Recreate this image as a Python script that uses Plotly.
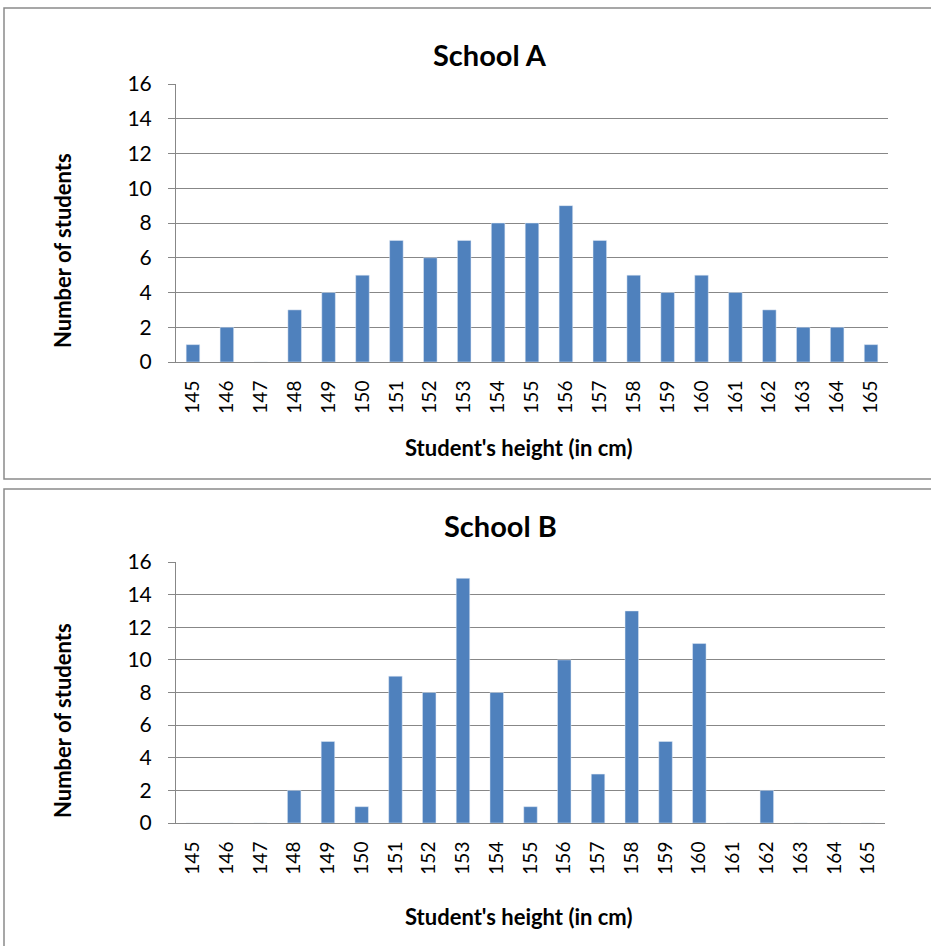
import plotly.graph_objects as go

heights = [str(h) for h in range(145, 166)]
school_a = [1, 2, 0, 3, 4, 5, 7, 6, 7, 8, 8, 9, 7, 5, 4, 5, 4, 3, 2, 2, 1]
school_b = [0, 0, 0, 2, 5, 1, 9, 8, 15, 8, 1, 10, 3, 13, 5, 11, 0, 2, 0, 0, 0]
titles = ["School A", "School B"]
y_title = "Number of students"
x_title = "Student's height (in cm)"

W, H = 931, 946
BAR = "#4F81BD"
GRID = "#878787"
FONT = "Lato, Carlito, Open Sans, sans-serif"

def px_x(x):
    return x / W

def px_y(y):
    return 1 - y / H

fig = go.Figure()
fig.add_trace(go.Bar(x=heights, y=school_a, marker_color=BAR, xaxis="x", yaxis="y", showlegend=False))
fig.add_trace(go.Bar(x=heights, y=school_b, marker_color=BAR, xaxis="x2", yaxis="y2", showlegend=False))

panels = [
    dict(x0=176, x1=888, y0=84, y1=362, ptop=8, pbot=479, title_x=490, title_y=55, ytitle_y=250, xtitle_y=447),
    dict(x0=176, x1=885, y0=562, y1=823, ptop=489, pbot=960, title_x=500, title_y=525, ytitle_y=720, xtitle_y=916),
]

axis_common = dict(showline=True, linecolor=GRID, linewidth=1, mirror=False, automargin=False)
xa = dict(type="category", tickangle=-90, tickfont=dict(family=FONT, size=19, color="#000"),
          ticks="", showgrid=False, zeroline=False, ticklabelstandoff=10, **axis_common)
ya = dict(range=[0, 16], dtick=2, showgrid=True, gridcolor=GRID, gridwidth=1, ticks="outside",
          ticklen=7, tickcolor=GRID, tickfont=dict(family=FONT, size=21, color="#000"),
          zeroline=False, ticklabelstandoff=12, **axis_common)

for i, p in enumerate(panels):
    sfx = "" if i == 0 else str(i + 1)
    fig.layout["xaxis" + sfx] = dict(xa, domain=[px_x(p["x0"]), px_x(p["x1"])], anchor="y" + sfx)
    fig.layout["yaxis" + sfx] = dict(ya, domain=[px_y(p["y1"]), px_y(p["y0"])], anchor="x" + sfx)
    fig.add_shape(type="rect", xref="paper", yref="paper", x0=px_x(4), x1=px_x(940),
                  y0=px_y(p["pbot"]), y1=px_y(p["ptop"]), line=dict(color="#8a8a8a", width=1.5),
                  fillcolor="rgba(0,0,0,0)", layer="below")
    fig.add_annotation(text="<b>" + titles[i] + "</b>", xref="paper", yref="paper",
                       x=px_x(p["title_x"]), y=px_y(p["title_y"]), showarrow=False,
                       font=dict(family=FONT, size=29, color="#000"), xanchor="center", yanchor="middle")
    fig.add_annotation(text="<b>" + y_title + "</b>", xref="paper", yref="paper",
                       x=px_x(62), y=px_y(p["ytitle_y"]), showarrow=False, textangle=-90,
                       font=dict(family=FONT, size=22, color="#000"), xanchor="center", yanchor="middle")
    fig.add_annotation(text="<b>" + x_title + "</b>", xref="paper", yref="paper",
                       x=px_x(518), y=px_y(p["xtitle_y"]), showarrow=False,
                       font=dict(family=FONT, size=22, color="#000"), xanchor="center", yanchor="middle")

fig.update_layout(width=W, height=H, margin=dict(l=0, r=0, t=0, b=0, pad=0, autoexpand=False),
                  paper_bgcolor="white", plot_bgcolor="white", bargap=0.6)
fig.write_html("out.html", config={"displayModeBar": False},
               post_script="document.body.style.margin='0';")
